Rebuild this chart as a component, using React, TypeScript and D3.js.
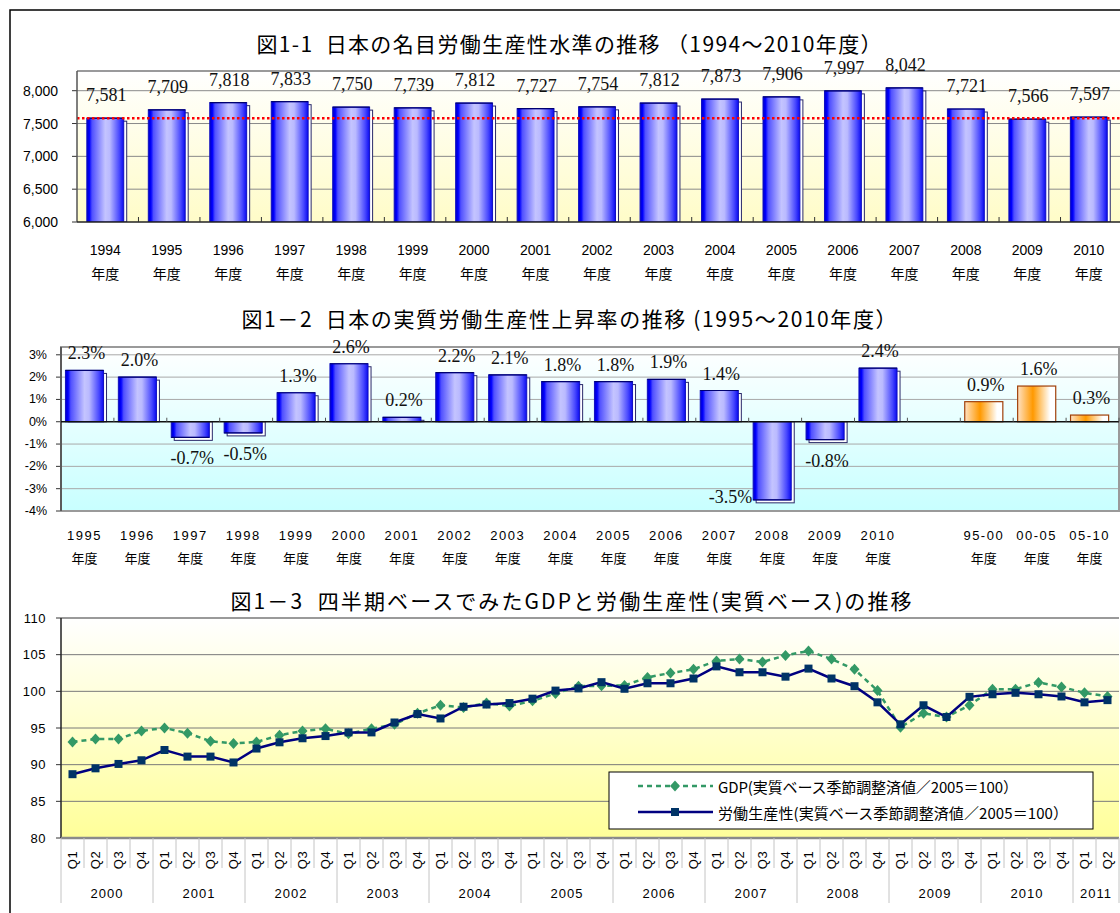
import React from 'react';
import * as d3 from 'd3';

// ---------- Data ----------
const levelYears = ['1994','1995','1996','1997','1998','1999','2000','2001','2002','2003','2004','2005','2006','2007','2008','2009','2010'];
const levelValues = [7581, 7709, 7818, 7833, 7750, 7739, 7812, 7727, 7754, 7812, 7873, 7906, 7997, 8042, 7721, 7566, 7597];
const levelTicks = [6000, 6500, 7000, 7500, 8000];
const levelReference = 7581;

const growthCats = ['1995','1996','1997','1998','1999','2000','2001','2002','2003','2004','2005','2006','2007','2008','2009','2010','gap','95-00','00-05','05-10'];
const growthValues: (number | null)[] = [2.3, 2.0, -0.7, -0.5, 1.3, 2.6, 0.2, 2.2, 2.1, 1.8, 1.8, 1.9, 1.4, -3.5, -0.8, 2.4, null, 0.9, 1.6, 0.3];
const averageCats = ['95-00', '00-05', '05-10'];
const growthTicks = [-4, -3, -2, -1, 0, 1, 2, 3];

const quarterYears = ['2000','2001','2002','2003','2004','2005','2006','2007','2008','2009','2010','2011'];
const quarterNames = ['Q1','Q2','Q3','Q4'];
const gdpIndex = [
  93.1, 93.5, 93.5, 94.6,
  95.0, 94.3, 93.2, 92.9,
  93.1, 94.0, 94.6, 94.9,
  94.2, 94.9, 95.5, 97.0,
  98.1, 97.8, 98.4, 98.0,
  98.7, 99.7, 100.7, 100.75,
  100.8, 101.9, 102.5, 103.0,
  104.15, 104.4, 104.0, 104.9,
  105.5, 104.4, 103.0, 100.1,
  95.1, 97.0, 96.5, 98.1,
  100.3, 100.3, 101.2, 100.6,
  99.8, 99.3,
];
const productivityIndex = [
  88.7, 89.5, 90.1, 90.6,
  92.0, 91.1, 91.1, 90.3,
  92.2, 93.05, 93.6, 93.9,
  94.4, 94.4, 95.75, 96.9,
  96.3, 97.9, 98.2, 98.4,
  99.0, 100.1, 100.4, 101.25,
  100.35, 101.1, 101.1, 101.75,
  103.4, 102.6, 102.6, 102.0,
  103.1, 101.75, 100.7, 98.5,
  95.5, 98.1, 96.5, 99.25,
  99.6, 99.8, 99.6, 99.3,
  98.5, 98.8,
];
const indexTicks = [80, 85, 90, 95, 100, 105, 110];

const title1 = '図1-1  日本の名目労働生産性水準の推移 （1994～2010年度）';
const title2 = '図1－2  日本の実質労働生産性上昇率の推移 (1995～2010年度）';
const title3 = '図1－3  四半期ベースでみたGDPと労働生産性(実質ベース)の推移';
const legendGdp = 'GDP(実質ベース季節調整済値／2005＝100）';
const legendProd = '労働生産性(実質ベース季節調整済値／2005＝100）';
const fyLabel = '年度';

// ---------- Styles ----------
const SANS = "'Liberation Sans', Arial, sans-serif";
const CJK = "'Noto Sans CJK JP', 'Noto Sans', sans-serif";
const SERIF = "'Liberation Serif', 'Times New Roman', serif";

const quarters = quarterYears
  .flatMap((y) => quarterNames.map((q) => ({ year: y, q, key: `${y}-${q}` })))
  .slice(0, gdpIndex.length);

function Bar3D({ x, w, yTop, yBottom, positive, fill }: { x: number; w: number; yTop: number; yBottom: number; positive: boolean; fill: string }) {
  const h = Math.max(0, yBottom - yTop);
  const sx = x + 3;
  const sy = positive ? yTop + 3 : yTop;
  const sh = positive ? h - 3 : h + 3;
  return (
    <g>
      <rect x={sx} y={sy} width={w} height={Math.max(0, sh)} fill="#ffffff" stroke="#2a2a6a" strokeWidth={1} />
      <rect x={x} y={yTop} width={w} height={h} fill={fill} stroke="#1010c0" strokeWidth={1} />
      <line x1={x} x2={x + w} y1={positive ? yTop : yBottom} y2={positive ? yTop : yBottom} stroke="#000070" strokeWidth={1.2} />
    </g>
  );
}

export default function App() {
  // Panel 1
  const p1 = { left: 77, right: 1122, top: 71, bottom: 222 };
  const x1 = d3.scaleBand<string>().domain(levelYears).range([p1.left, p1.right]).paddingInner(0.4).paddingOuter(0.2).align(0.4);
  const y1 = d3.scaleLinear().domain([6000, 8300]).range([p1.bottom, p1.top]);
  const step1 = x1.step();

  // Panel 2
  const p2 = { left: 61, right: 1119, top: 347, bottom: 511 };
  const x2 = d3.scaleBand<string>().domain(growthCats).range([p2.left, p2.right]).paddingInner(0.28).paddingOuter(0.14).align(0.3);
  const y2 = d3.scaleLinear().domain([-4, 3.35]).range([p2.bottom, p2.top]);
  const step2 = x2.step();
  const zero2 = y2(0);

  // Panel 3
  const p3 = { left: 61, right: 1119, top: 618, bottom: 838 };
  const x3 = d3.scaleBand<string>().domain(quarters.map((d) => d.key)).range([p3.left, p3.right]).padding(0);
  const y3 = d3.scaleLinear().domain([80, 110]).range([p3.bottom, p3.top]);
  const step3 = x3.step();
  const cx3 = (k: string) => (x3(k) as number) + step3 / 2;
  const lineGen = d3.line<{ key: string; v: number }>().x((d) => cx3(d.key)).y((d) => y3(d.v));
  const gdpPts = quarters.map((d, i) => ({ key: d.key, v: gdpIndex[i] }));
  const prodPts = quarters.map((d, i) => ({ key: d.key, v: productivityIndex[i] }));

  const diamond = (cx: number, cy: number) => `M${cx},${cy - 5.5} L${cx + 5},${cy} L${cx},${cy + 5.5} L${cx - 5},${cy} Z`;

  const yearGroups = quarterYears.map((y) => {
    const qs = quarters.filter((q) => q.year === y);
    const first = x3(qs[0].key) as number;
    const last = (x3(qs[qs.length - 1].key) as number) + step3;
    return { year: y, x0: first, x1: last };
  });

  const pre = { whiteSpace: 'pre' as const };

  return (
    <svg width={1120} height={913} style={{ position: 'absolute', left: 0, top: 0, background: '#ffffff' }} xmlns="http://www.w3.org/2000/svg">
      <defs>
        <linearGradient id="bg1" x1="0" y1="0" x2="0" y2="1">
          <stop offset="0%" stopColor="#ffffff" />
          <stop offset="100%" stopColor="#fffcc8" />
        </linearGradient>
        <linearGradient id="bg2" x1="0" y1="0" x2="0" y2="1">
          <stop offset="0%" stopColor="#ffffff" />
          <stop offset="100%" stopColor="#c8ffff" />
        </linearGradient>
        <linearGradient id="bg3" x1="0" y1="0" x2="0" y2="1">
          <stop offset="0%" stopColor="#ffffff" />
          <stop offset="100%" stopColor="#ffff99" />
        </linearGradient>
        <linearGradient id="blueBar" x1="0" y1="0" x2="1" y2="0">
          <stop offset="0%" stopColor="#0000c8" />
          <stop offset="7%" stopColor="#0000ff" />
          <stop offset="14%" stopColor="#5050ff" />
          <stop offset="50%" stopColor="#c4c4ff" />
          <stop offset="62%" stopColor="#babaff" />
          <stop offset="88%" stopColor="#4848ff" />
          <stop offset="100%" stopColor="#0a0af0" />
        </linearGradient>
        <linearGradient id="orangeBar" x1="0" y1="0" x2="1" y2="0">
          <stop offset="0%" stopColor="#ffe2c4" />
          <stop offset="40%" stopColor="#ff9900" />
          <stop offset="85%" stopColor="#ffffff" />
          <stop offset="100%" stopColor="#ffffff" />
        </linearGradient>
        <clipPath id="clip1"><rect x={p1.left} y={p1.top} width={p1.right - p1.left} height={p1.bottom - p1.top} /></clipPath>
        <clipPath id="clip2"><rect x={p2.left} y={p2.top} width={p2.right - p2.left} height={p2.bottom - p2.top} /></clipPath>
      </defs>

      {/* outer frame */}
      <rect x={10} y={10} width={1130} height={930} fill="none" stroke="#000" strokeWidth={1.5} />

      {/* ================= Panel 1 ================= */}
      <text x={569} y={43} textAnchor="middle" dominantBaseline="central" fontFamily={CJK} fontSize={21} textLength={625} lengthAdjust="spacing" style={pre} fill="#000">{title1}</text>
      <rect x={p1.left} y={p1.top} width={p1.right - p1.left} height={p1.bottom - p1.top} fill="url(#bg1)" />
      {levelTicks.map((t) => (
        <g key={t}>
          {t !== 6000 && <line x1={p1.left} x2={p1.right} y1={y1(t)} y2={y1(t)} stroke="#8a8a8a" strokeWidth={1} />}
          <line x1={p1.left - 5} x2={p1.left} y1={y1(t)} y2={y1(t)} stroke="#333" strokeWidth={1} />
          <text x={58} y={y1(t)} textAnchor="end" dominantBaseline="central" fontFamily={SANS} fontSize={14} fill="#000">{d3.format(',')(t)}</text>
        </g>
      ))}
      <g clipPath="url(#clip1)">
        {levelYears.map((yr, i) => (
          <Bar3D key={yr} x={x1(yr) as number} w={x1.bandwidth()} yTop={y1(levelValues[i])} yBottom={p1.bottom} positive fill="url(#blueBar)" />
        ))}
      </g>
      <line x1={p1.left} x2={p1.right} y1={y1(levelReference)} y2={y1(levelReference)} stroke="#ff0000" strokeWidth={2.5} strokeDasharray="2.5 2.5" />
      <line x1={p1.left} x2={p1.right} y1={p1.top} y2={p1.top} stroke="#9a9a9a" strokeWidth={2} />
      <line x1={p1.left} x2={p1.left} y1={p1.top} y2={p1.bottom} stroke="#555" strokeWidth={1.5} />
      <line x1={p1.left} x2={p1.right} y1={p1.bottom} y2={p1.bottom} stroke="#222" strokeWidth={1.5} />
      {levelYears.map((yr, i) => (
        <line key={'t' + yr} x1={p1.left + (i + 1) * step1} x2={p1.left + (i + 1) * step1} y1={p1.bottom} y2={p1.bottom - 5} stroke="#333" strokeWidth={1} />
      ))}
      {levelYears.map((yr, i) => {
        const cx = (x1(yr) as number) + x1.bandwidth() / 2;
        return (
          <g key={'l' + yr}>
            <text x={cx + 1} y={y1(levelValues[i]) - 23} textAnchor="middle" dominantBaseline="central" fontFamily={SERIF} fontSize={18} fill="#111">{d3.format(',')(levelValues[i])}</text>
            <text x={cx} y={250} textAnchor="middle" dominantBaseline="central" fontFamily={SANS} fontSize={14} fill="#000">{yr}</text>
            <text x={cx} y={273} textAnchor="middle" dominantBaseline="central" fontFamily={CJK} fontSize={14} fill="#000">{fyLabel}</text>
          </g>
        );
      })}

      {/* ================= Panel 2 ================= */}
      <text x={569} y={318} textAnchor="middle" dominantBaseline="central" fontFamily={CJK} fontSize={21} textLength={655} lengthAdjust="spacing" style={pre} fill="#000">{title2}</text>
      <rect x={p2.left} y={p2.top} width={p2.right - p2.left} height={p2.bottom - p2.top} fill="url(#bg2)" />
      {growthTicks.map((t) => (
        <g key={t}>
          {t !== -4 && t !== 0 && <line x1={p2.left} x2={p2.right} y1={y2(t)} y2={y2(t)} stroke="#a8a8a8" strokeWidth={1} />}
          <line x1={p2.left - 5} x2={p2.left} y1={y2(t)} y2={y2(t)} stroke="#333" strokeWidth={1} />
          <text x={47} y={y2(t)} textAnchor="end" dominantBaseline="central" fontFamily={SANS} fontSize={12.5} fill="#000">{`${t}%`}</text>
        </g>
      ))}
      <g clipPath="url(#clip2)">
        {growthCats.map((c, i) => {
          const v = growthValues[i];
          if (v === null) return null;
          const bx = x2(c) as number;
          const bw = x2.bandwidth();
          const isAvg = averageCats.includes(c);
          const yTop = v >= 0 ? y2(v) : zero2;
          const yBot = v >= 0 ? zero2 : y2(v);
          if (isAvg) {
            return <rect key={c} x={bx} y={yTop} width={bw} height={yBot - yTop} fill="url(#orangeBar)" stroke="#a0400a" strokeWidth={1.2} />;
          }
          return <Bar3D key={c} x={bx} w={bw} yTop={yTop} yBottom={yBot} positive={v >= 0} fill="url(#blueBar)" />;
        })}
      </g>
      <rect x={p2.left} y={p2.top} width={p2.right - p2.left} height={p2.bottom - p2.top} fill="none" stroke="#9a9a9a" strokeWidth={2} />
      <line x1={p2.left} x2={p2.left} y1={p2.top} y2={p2.bottom} stroke="#444" strokeWidth={1.5} />
      <line x1={p2.left} x2={p2.right} y1={zero2} y2={zero2} stroke="#111" strokeWidth={1.5} />
      {growthCats.map((c, i) => (
        <line key={'t' + c} x1={p2.left + (i + 1) * step2} x2={p2.left + (i + 1) * step2} y1={zero2} y2={zero2 - 4} stroke="#555" strokeWidth={1} />
      ))}
      {growthCats.map((c, i) => {
        const v = growthValues[i];
        if (v === null) return null;
        const cx = (x2(c) as number) + x2.bandwidth() / 2;
        let lx = cx + 2;
        let ly = v >= 0 ? y2(v) - 17 : y2(v) + 21;
        let anchor: 'middle' | 'end' = 'middle';
        if (ly > p2.bottom - 8) {
          lx = (x2(c) as number) - 1;
          ly = y2(v) - 3;
          anchor = 'end';
        }
        return (
          <text key={'l' + c} x={lx} y={ly} textAnchor={anchor} dominantBaseline="central" fontFamily={SERIF} fontSize={18} fill="#111">{`${v.toFixed(1)}%`}</text>
        );
      })}
      {growthCats.map((c) => {
        if (c === 'gap') return null;
        const cx = (x2(c) as number) + x2.bandwidth() / 2;
        return (
          <g key={'x' + c}>
            <text x={cx} y={535} textAnchor="middle" dominantBaseline="central" fontFamily={SANS} fontSize={13} letterSpacing={1.5} fill="#000">{c}</text>
            <text x={cx} y={557} textAnchor="middle" dominantBaseline="central" fontFamily={CJK} fontSize={13} fill="#000">{fyLabel}</text>
          </g>
        );
      })}

      {/* ================= Panel 3 ================= */}
      <text x={571} y={600} textAnchor="middle" dominantBaseline="central" fontFamily={CJK} fontSize={21} textLength={681} lengthAdjust="spacing" style={pre} fill="#000">{title3}</text>
      <rect x={p3.left} y={p3.top} width={p3.right - p3.left} height={p3.bottom - p3.top} fill="url(#bg3)" />
      {indexTicks.map((t) => (
        <g key={t}>
          {t !== 80 && t !== 110 && <line x1={p3.left} x2={p3.right} y1={y3(t)} y2={y3(t)} stroke="#7a7a7a" strokeWidth={1} />}
          <line x1={p3.left - 5} x2={p3.left} y1={y3(t)} y2={y3(t)} stroke="#333" strokeWidth={1} />
          <text x={46} y={y3(t)} textAnchor="end" dominantBaseline="central" fontFamily={SANS} fontSize={13} letterSpacing={0.5} fill="#000">{t}</text>
        </g>
      ))}
      <line x1={p3.left} x2={p3.right} y1={p3.top} y2={p3.top} stroke="#9a9a9a" strokeWidth={2} />
      <line x1={p3.left} x2={p3.left} y1={p3.top} y2={p3.bottom} stroke="#222" strokeWidth={1.5} />
      <line x1={p3.left} x2={p3.right} y1={p3.bottom} y2={p3.bottom} stroke="#8a8a8a" strokeWidth={2.5} />

      {d3.range(quarters.length + 1).map((i) => {
        const x = p3.left + i * step3;
        const long = i % 4 === 0 || i === quarters.length;
        return <line key={'s' + i} x1={x} x2={x} y1={p3.bottom} y2={long ? 903 : 868} stroke="#c4c4c4" strokeWidth={1} />;
      })}
      {quarters.map((q) => (
        <text key={'q' + q.key} transform={`translate(${cx3(q.key)},860) rotate(-90)`} textAnchor="middle" dominantBaseline="central" fontFamily={SANS} fontSize={13} letterSpacing={0.5} fill="#000">{q.q}</text>
      ))}
      {yearGroups.map((g) => (
        <text key={'y' + g.year} x={(g.x0 + g.x1) / 2} y={893} textAnchor="middle" dominantBaseline="central" fontFamily={SANS} fontSize={13} letterSpacing={1} fill="#000">{g.year}</text>
      ))}

      <path d={lineGen(gdpPts) || ''} fill="none" stroke="#339966" strokeWidth={2.5} strokeDasharray="5 4" />
      {gdpPts.map((p) => (
        <path key={'gd' + p.key} d={diamond(cx3(p.key), y3(p.v))} fill="#339966" />
      ))}
      <path d={lineGen(prodPts) || ''} fill="none" stroke="#000080" strokeWidth={2.5} />
      {prodPts.map((p) => (
        <rect key={'pd' + p.key} x={cx3(p.key) - 4} y={y3(p.v) - 4} width={8} height={8} fill="#003366" />
      ))}

      {/* legend */}
      <rect x={609} y={772} width={484} height={57} fill="#ffffff" stroke="#000" strokeWidth={1} />
      <line x1={638} x2={713} y1={786} y2={786} stroke="#339966" strokeWidth={2.5} strokeDasharray="5 4" />
      <path d={diamond(675, 786)} fill="#339966" />
      <text x={718} y={786} dominantBaseline="central" fontFamily={CJK} fontSize={15} textLength={300} lengthAdjust="spacing" fill="#000">{legendGdp}</text>
      <line x1={638} x2={713} y1={812} y2={812} stroke="#000080" strokeWidth={2.5} />
      <rect x={671} y={808} width={8} height={8} fill="#003366" />
      <text x={718} y={812} dominantBaseline="central" fontFamily={CJK} fontSize={15} textLength={350} lengthAdjust="spacing" fill="#000">{legendProd}</text>
    </svg>
  );
}
